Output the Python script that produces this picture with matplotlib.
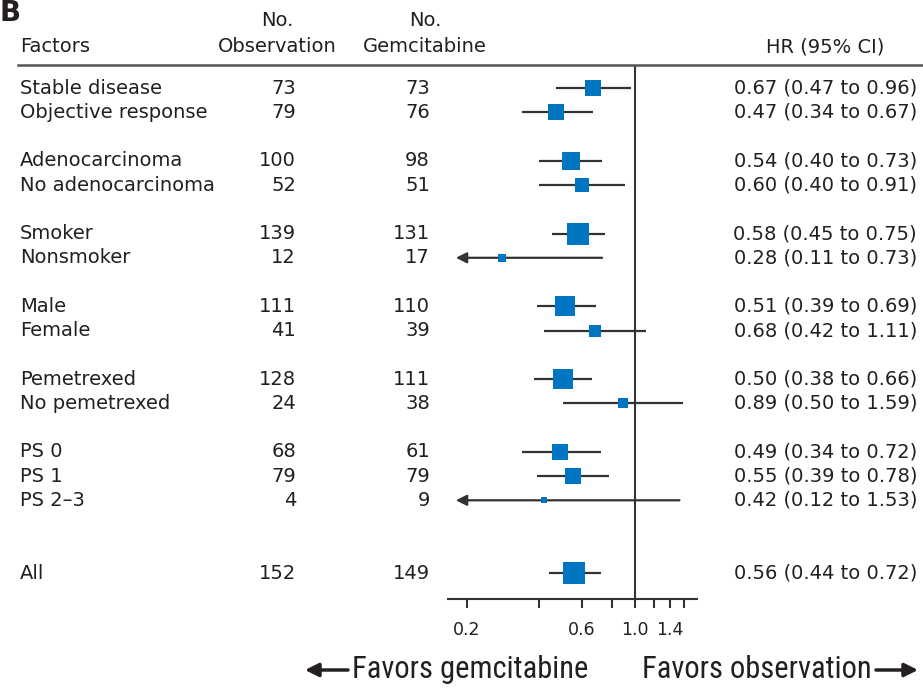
import numpy as np
import matplotlib
matplotlib.use('Agg')
import matplotlib.pyplot as plt
from matplotlib import transforms, font_manager
from matplotlib.lines import Line2D
from matplotlib.patches import FancyArrowPatch

# data
factors = ['Stable disease', 'Objective response', 'Adenocarcinoma', 'No adenocarcinoma',
           'Smoker', 'Nonsmoker', 'Male', 'Female', 'Pemetrexed', 'No pemetrexed',
           'PS 0', 'PS 1', 'PS 2\u20133', 'All']
n_obs = [73, 79, 100, 52, 139, 12, 111, 41, 128, 24, 68, 79, 4, 152]
n_gem = [73, 76, 98, 51, 131, 17, 110, 39, 111, 38, 61, 79, 9, 149]
hr = [0.67, 0.47, 0.54, 0.60, 0.58, 0.28, 0.51, 0.68, 0.50, 0.89, 0.49, 0.55, 0.42, 0.56]
ci_lo = [0.47, 0.34, 0.40, 0.40, 0.45, 0.11, 0.39, 0.42, 0.38, 0.50, 0.34, 0.39, 0.12, 0.44]
ci_hi = [0.96, 0.67, 0.73, 0.91, 0.75, 0.73, 0.69, 1.11, 0.66, 1.59, 0.72, 0.78, 1.53, 0.72]
group_sizes = [2, 2, 2, 2, 2, 3, 1]

tick_vals = [0.2, 0.4, 0.6, 0.8, 1.0, 1.2, 1.4, 1.6]
tick_labels = ['0.2', '', '0.6', '', '1.0', '', '1.4', '']

# row positions: blank row between groups, two before "All"
rows = []
r = 0
for g, size in enumerate(group_sizes):
    if g == len(group_sizes) - 1:
        r += 1
    for k in range(size):
        rows.append(r)
        r += 1
    r += 1

W, H = 923, 692
def fx(x):
    return x / W
def fy(y):
    return 1 - y / H

TXT = '#231f20'
BLUE = '#0075c2'
LINE = '#333333'
plt.rcParams['font.family'] = 'DejaVu Sans'

# condensed face for the "Favors" labels, if one is installed
fonts = font_manager.fontManager.ttflist
narrow_fam, narrow_stretch = 'DejaVu Sans', 'normal'
for f in fonts:
    if f.name in ('Roboto Condensed', 'Liberation Sans Narrow', 'Open Sans Condensed'):
        narrow_fam, narrow_stretch = f.name, 'normal'
        break
else:
    for f in fonts:
        if f.name == 'DejaVu Sans' and 'Condensed' in f.fname and 'Bold' not in f.fname \
                and 'Oblique' not in f.fname:
            narrow_fam, narrow_stretch = 'DejaVu Sans', 'condensed'
            break

fig = plt.figure(figsize=(W / 100, H / 100), dpi=100)
ax = fig.add_axes([fx(448), fy(599), fx(697) - fx(448), fy(65) - fy(599)])
ax.set_xscale('log')
xmin, xmax = 0.167, 1.81
ax.set_xlim(xmin, xmax)
ax.set_ylim(21.07, -0.95)

clip = 0.18
for i in range(len(factors)):
    y = rows[i]
    if ci_lo[i] < clip:
        ax.annotate('', xy=(clip, y), xytext=(ci_hi[i], y),
                    arrowprops=dict(arrowstyle='-|>', color=LINE, lw=1.6, mutation_scale=16,
                                    shrinkA=0, shrinkB=0))
    else:
        ax.plot([ci_lo[i], ci_hi[i]], [y, y], color=LINE, lw=1.6, solid_capstyle='butt')
    side_px = 1.2 * np.sqrt(n_obs[i] + n_gem[i]) + 1.5
    ax.plot(hr[i], y, marker='s', ms=side_px * 0.72, color=BLUE, mew=0, zorder=3)

ax.axvline(1.0, color=LINE, lw=1.5, zorder=1)

for s in ['top', 'left', 'right']:
    ax.spines[s].set_visible(False)
ax.spines['bottom'].set_color(LINE)
ax.spines['bottom'].set_linewidth(1.5)
ax.set_yticks([])
ax.xaxis.set_minor_locator(matplotlib.ticker.NullLocator())
ax.set_xticks(tick_vals)
ax.set_xticklabels(tick_labels)
ax.tick_params(axis='x', direction='out', length=6.5, width=1.5, color=LINE,
               labelsize=12.5, labelcolor=TXT, pad=9)

# table text
tr = transforms.blended_transform_factory(fig.transFigure, ax.transData)
fs = 14
for i in range(len(factors)):
    y = rows[i]
    fig.text(fx(20), y, factors[i], transform=tr, ha='left', va='center', fontsize=fs, color=TXT)
    fig.text(fx(296), y, str(n_obs[i]), transform=tr, ha='right', va='center', fontsize=fs, color=TXT)
    fig.text(fx(430), y, str(n_gem[i]), transform=tr, ha='right', va='center', fontsize=fs, color=TXT)
    hr_txt = '%.2f (%.2f to %.2f)' % (hr[i], ci_lo[i], ci_hi[i])
    fig.text(fx(917), y, hr_txt, transform=tr, ha='right', va='center', fontsize=fs, color=TXT)

# header
fig.text(fx(0), fy(21), 'B', fontsize=20, fontweight='bold', color=TXT, va='baseline', ha='left')
fig.text(fx(277), fy(21), 'No.', fontsize=fs, color=TXT, ha='center', va='center')
fig.text(fx(425), fy(21), 'No.', fontsize=fs, color=TXT, ha='center', va='center')
fig.text(fx(20), fy(47), 'Factors', fontsize=fs, color=TXT, ha='left', va='center')
fig.text(fx(277), fy(47), 'Observation', fontsize=fs, color=TXT, ha='center', va='center')
fig.text(fx(425), fy(47), 'Gemcitabine', fontsize=fs, color=TXT, ha='center', va='center')
fig.text(fx(884), fy(47), 'HR (95% CI)', fontsize=fs, color=TXT, ha='right', va='center')
fig.add_artist(Line2D([fx(18), fx(923)], [fy(65), fy(65)], color='#555555', lw=1.8))

# favors labels
fig.text(fx(352), fy(669), 'Favors gemcitabine', fontsize=22, family=narrow_fam,
         fontstretch=narrow_stretch, color=TXT, ha='left', va='center')
fig.text(fx(872), fy(669), 'Favors observation', fontsize=22, family=narrow_fam,
         fontstretch=narrow_stretch, color=TXT, ha='right', va='center')
for x0, x1 in [(348, 305), (876, 918)]:
    fig.add_artist(FancyArrowPatch((fx(x0), fy(670)), (fx(x1), fy(670)),
                                   transform=fig.transFigure, arrowstyle='-|>',
                                   mutation_scale=20, lw=2.5, color=TXT,
                                   shrinkA=0, shrinkB=0))

fig.savefig('out.png', dpi=100)
